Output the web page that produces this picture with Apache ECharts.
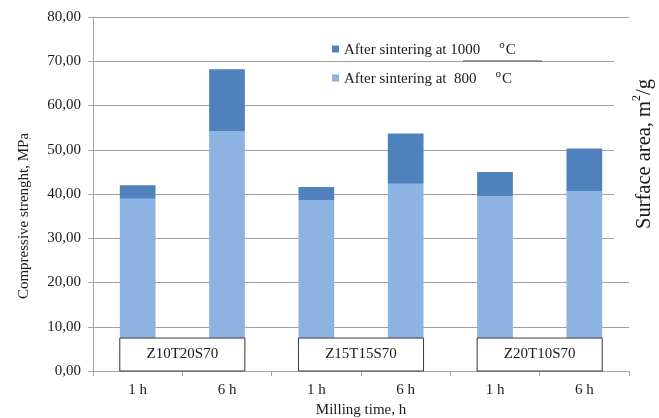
<!DOCTYPE html>
<html>
<head>
<meta charset="utf-8">
<script src="https://cdn.jsdelivr.net/npm/echarts@6/dist/echarts.min.js"></script>
<style>html,body{margin:0;padding:0;background:#fff}#c{width:659px;height:418px}</style>
</head>
<body>
<div id="c"></div>
<script>
var categories = ['1 h', '6 h', '1 h', '6 h', '1 h', '6 h'];
var after800 = [38.9, 54.2, 38.6, 42.3, 39.5, 40.6];
var after1000 = [42.0, 68.2, 41.6, 53.7, 45.0, 50.3];
var groupNames = ['Z10T20S70', 'Z15T15S70', 'Z20T10S70'];
var groupStart = [0, 2, 4];
var groupEnd = [1, 3, 5];
var yTicks = [0, 10, 20, 30, 40, 50, 60, 70, 80];

var increment = after1000.map(function (v, i) { return +(v - after800[i]).toFixed(2); });
var groupData = groupNames.map(function (n, i) { return [groupStart[i], groupEnd[i], n]; });

var FONT = '"Liberation Serif", "Times New Roman", serif';
var TXT = '#1a1a1a';
var chart = echarts.init(document.getElementById('c'), null, { renderer: 'canvas' });

var supRich = {
  t: { fontFamily: FONT, fontSize: 15, color: TXT, lineHeight: 18, verticalAlign: 'bottom' },
  g: { width: 19 },
  s: { fontFamily: FONT, fontSize: 11, color: TXT, lineHeight: 18, verticalAlign: 'top', padding: [0, 1, 6, 0] }
};

chart.setOption({
  animation: false,
  backgroundColor: '#fff',
  grid: { left: 93, right: 30, top: 17, bottom: 47, containLabel: false, outerBoundsMode: 'none' },
  legend: {
    orient: 'vertical',
    left: 327,
    top: 35,
    itemGap: 11,
    itemWidth: 7,
    itemHeight: 7,
    icon: 'rect',
    data: ['After sintering at 1000', 'After sintering at 800'],
    formatter: function (name) {
      var num = name === 'After sintering at 1000' ? 'After sintering at 1000' : 'After sintering at  800';
      return '{t|' + num + '}{g|}{s|o}{t|C}';
    },
    textStyle: { rich: supRich, fontFamily: FONT, fontSize: 15, color: TXT }
  },
  xAxis: {
    type: 'category',
    data: categories,
    axisLine: { lineStyle: { color: '#a6a6a6', width: 1 } },
    axisTick: { show: true, length: 5, lineStyle: { color: '#a6a6a6' } },
    axisLabel: { fontFamily: FONT, fontSize: 15, color: TXT, margin: 12 },
    name: 'Milling time, h',
    nameLocation: 'middle',
    nameGap: 31,
    nameTextStyle: { fontFamily: FONT, fontSize: 15, color: TXT }
  },
  yAxis: {
    type: 'value',
    min: 0,
    max: 80,
    interval: 10,
    axisLine: { show: true, lineStyle: { color: '#a6a6a6' } },
    axisTick: { show: true, length: 5, lineStyle: { color: '#a6a6a6' } },
    axisLabel: {
      fontFamily: FONT, fontSize: 15, color: TXT, margin: 12,
      formatter: function (v) { return v.toFixed(2).replace('.', ','); }
    },
    splitLine: { lineStyle: { color: '#a0a0a0', width: 1 } }
  },
  series: [
    {
      name: 'After sintering at 800',
      type: 'bar',
      stack: 's',
      barWidth: '40%',
      itemStyle: { color: '#8db3e2' },
      data: after800
    },
    {
      name: 'After sintering at 1000',
      type: 'bar',
      stack: 's',
      barWidth: '40%',
      itemStyle: { color: '#4f81bd' },
      data: increment
    },
    {
      type: 'custom',
      z: 10,
      data: groupData,
      renderItem: function (params, api) {
        var band = api.size([1, 0])[0];
        var half = band * 0.2;
        var p0 = api.coord([api.value(0), 0]);
        var p1 = api.coord([api.value(1), 7.45]);
        var x0 = p0[0] - half, x1 = p1[0] + half;
        var y0 = p1[1], y1 = p0[1];
        return {
          type: 'group',
          children: [
            { type: 'rect', shape: { x: x0, y: y0, width: x1 - x0, height: y1 - y0 },
              style: { fill: '#fff', stroke: '#3a3a3a', lineWidth: 1 } },
            { type: 'text', style: { text: groupNames[params.dataIndex], x: (x0 + x1) / 2, y: (y0 + y1) / 2,
              textAlign: 'center', textVerticalAlign: 'middle', font: '15px ' + FONT, fill: TXT } }
          ]
        };
      }
    }
  ],
  graphic: [
    { type: 'rect', z: 5, shape: { x: 614, y: 35, width: 45, height: 225 }, style: { fill: '#fff' } },
    { type: 'line', z: 6, shape: { x1: 463, y1: 61, x2: 542, y2: 61 }, style: { stroke: '#7a7a7a', lineWidth: 1.5 } },
    { type: 'text', z: 7, x: 24, y: 216, rotation: Math.PI / 2,
      style: { text: 'Compressive strenght, MPa', textAlign: 'center', textVerticalAlign: 'middle', font: '15px ' + FONT, fill: TXT } },
    { type: 'text', z: 7, x: 643, y: 154, rotation: Math.PI / 2,
      style: {
        text: '{t|Surface area, m}{s|2}{t|/g}', textAlign: 'center', textVerticalAlign: 'middle',
        rich: {
          t: { fontFamily: FONT, fontSize: 20.5, fill: TXT, color: TXT, lineHeight: 24, verticalAlign: 'bottom' },
          s: { fontFamily: FONT, fontSize: 12, fill: TXT, color: TXT, lineHeight: 24, verticalAlign: 'top' }
        }
      } }
  ]
});
</script>
</body>
</html>
